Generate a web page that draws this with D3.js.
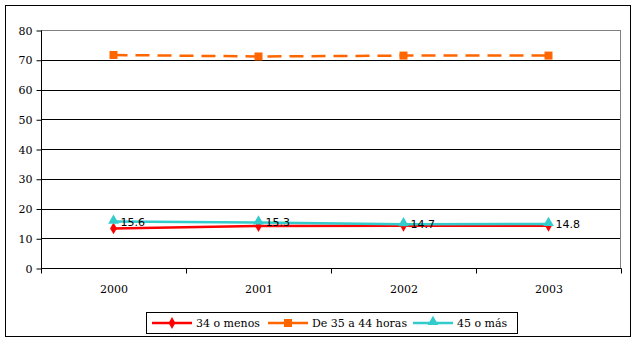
<!DOCTYPE html>
<html><head><meta charset="utf-8">
<script src="https://cdn.jsdelivr.net/npm/d3@7"></script>
<style>body{margin:0;background:#fff}svg{display:block}</style>
</head><body>
<svg id="c" width="640" height="342"></svg>
<script>
const years = ["2000","2001","2002","2003"];
const seriesNames = ["34 o menos","De 35 a 44 horas","45 o más"];
const menos34 = [13.3, 14.1, 14.2, 14.2];
const de35a44 = [71.6, 71.1, 71.4, 71.4];
const mas45 = [15.6, 15.3, 14.7, 14.8];
const labels45 = ["15.6","15.3","14.7","14.8"];
const yTicks = [0,10,20,30,40,50,60,70,80];

const svg = d3.select("#c");
const font = "'DejaVu Serif',serif";
const L=41,R=621,T=30,B=268;

svg.append("rect").attr("x",5.5).attr("y",5.5).attr("width",625).attr("height",331)
  .attr("fill","#fff").attr("stroke","#000").attr("stroke-width",1);

const x = d3.scaleBand().domain(years).range([L,R]);
const y = d3.scaleLinear().domain([0,80]).range([B,T]);

// gridlines
svg.append("g").selectAll("line").data(yTicks.filter(d=>d>0&&d<80)).join("line")
  .attr("x1",L).attr("x2",R).attr("y1",d=>Math.round(y(d))+0.5).attr("y2",d=>Math.round(y(d))+0.5)
  .attr("stroke","#000").attr("stroke-width",1);
svg.append("rect").attr("x",L+0.5).attr("y",T+0.5).attr("width",R-L-1).attr("height",B-T)
  .attr("fill","none").attr("stroke","#808080");

// y axis
const ya = svg.append("g").attr("transform",`translate(${L+0.5},0.5)`)
  .call(d3.axisLeft(y).tickValues(yTicks).tickSize(5).tickPadding(4).tickFormat(d3.format("d")));
ya.selectAll("path,line").attr("stroke","#000");
ya.select("path").attr("d",`M0,${T}V${B}`);
ya.selectAll("text").attr("font-family",font).attr("font-size",11).attr("fill","#000");

// x axis
const xa = svg.append("g").attr("transform",`translate(0.5,${B+0.5})`);
xa.append("line").attr("x1",L).attr("x2",R).attr("stroke","#000");
const bounds = years.map(d=>x(d)).concat([R]);
xa.selectAll("line.t").data(bounds).join("line").attr("class","t")
  .attr("x1",d=>Math.round(d)).attr("x2",d=>Math.round(d)).attr("y1",0).attr("y2",5).attr("stroke","#000");
xa.selectAll("text").data(years).join("text")
  .attr("x",d=>x(d)+x.bandwidth()/2).attr("y",24).attr("text-anchor","middle")
  .attr("font-family",font).attr("font-size",11).text(d=>d);

const cx = d=>x(d)+x.bandwidth()/2;
const line = d3.line().x((d,i)=>cx(years[i])).y(d=>y(d));

// orange dashed
svg.append("path").datum(de35a44).attr("d",line).attr("fill","none")
  .attr("stroke","#FF6600").attr("stroke-width",2.5).attr("stroke-dasharray","14,8");
svg.append("g").selectAll("rect").data(de35a44).join("rect")
  .attr("x",(d,i)=>cx(years[i])-4).attr("y",d=>y(d)-4).attr("width",8).attr("height",8).attr("fill","#FF6600");

// red
svg.append("path").datum(menos34).attr("d",line).attr("fill","none")
  .attr("stroke","#FF0000").attr("stroke-width",2.5);
const diamond = d3.symbol().type(d3.symbolDiamond).size(40);
svg.append("g").selectAll("path").data(menos34).join("path")
  .attr("d",diamond).attr("transform",(d,i)=>`translate(${cx(years[i])},${y(d)})`).attr("fill","#FF0000");

// cyan
svg.append("path").datum(mas45).attr("d",line).attr("fill","none")
  .attr("stroke","#33CCCC").attr("stroke-width",2.5);
const tri = d3.symbol().type(d3.symbolTriangle).size(50);
svg.append("g").selectAll("path").data(mas45).join("path")
  .attr("d",tri).attr("transform",(d,i)=>`translate(${cx(years[i])},${y(d)-1})`).attr("fill","#33CCCC");
svg.append("g").selectAll("text").data(mas45).join("text")
  .attr("x",(d,i)=>cx(years[i])+7).attr("y",d=>y(d)+4)
  .attr("font-family","'DejaVu Sans',sans-serif").attr("font-size",11).text((d,i)=>labels45[i]);

// legend
const lg = svg.append("g");
lg.append("rect").attr("x",146.5).attr("y",312.5).attr("width",371).attr("height",21)
  .attr("fill","#fff").attr("stroke","#000");
const items = [
  {name:seriesNames[0],color:"#FF0000",x:152,sym:"d"},
  {name:seriesNames[1],color:"#FF6600",x:268,sym:"s"},
  {name:seriesNames[2],color:"#33CCCC",x:413,sym:"t"}
];
const ly = 323;
items.forEach(it=>{
  lg.append("line").attr("x1",it.x).attr("x2",it.x+40).attr("y1",ly).attr("y2",ly)
    .attr("stroke",it.color).attr("stroke-width",2.5);
  const mx = it.x+20;
  if(it.sym==="d") lg.append("path").attr("d",diamond).attr("transform",`translate(${mx},${ly})`).attr("fill",it.color);
  if(it.sym==="s") lg.append("rect").attr("x",mx-4).attr("y",ly-4).attr("width",8).attr("height",8).attr("fill",it.color);
  if(it.sym==="t") lg.append("path").attr("d",tri).attr("transform",`translate(${mx},${ly-1})`).attr("fill",it.color);
  lg.append("text").attr("x",it.x+44).attr("y",ly+4).attr("font-family",font).attr("font-size",11).text(it.name);
});
</script>
</body></html>
